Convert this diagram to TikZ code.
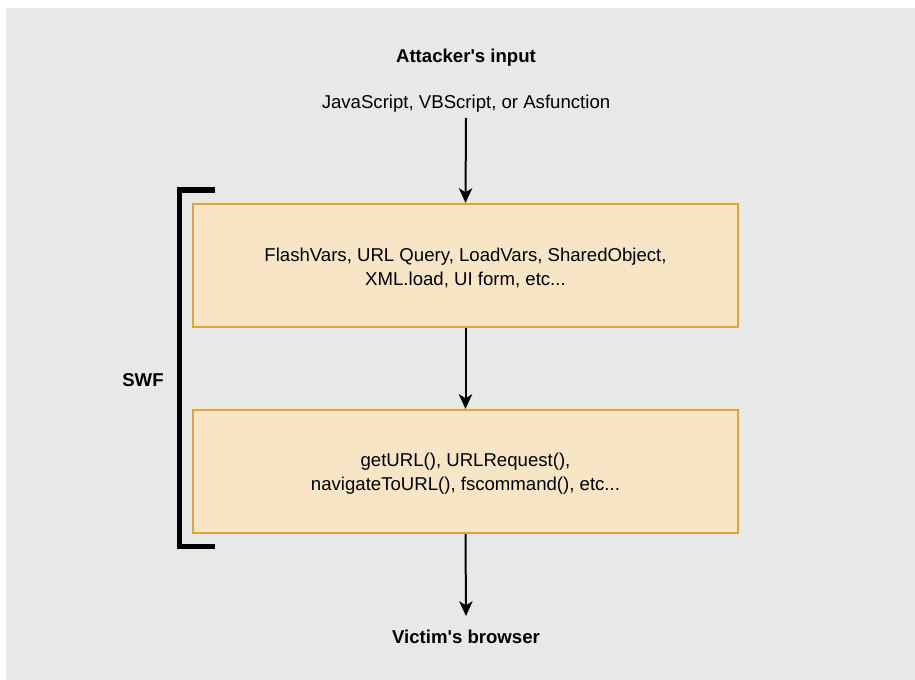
\documentclass[tikz,border=0pt]{standalone}
\usepackage{fontspec}
\setmainfont{Liberation Sans}[Ligatures=TeXOff]
\usetikzlibrary{arrows.meta}
\definecolor{bggray}{HTML}{E8E8E8}
\definecolor{boxfill}{HTML}{F8E5C6}
\definecolor{boxline}{HTML}{E2A336}
\tikzset{
  stagebox/.style={draw=boxline, line width=1.6pt, fill=boxfill,
    minimum width=545*0.75pt, minimum height=123*0.75pt, align=center,
    inner sep=0pt, font=\fontsize{13.95}{18}\selectfont},
  plain/.style={inner sep=0pt, font=\fontsize{13.95}{18}\selectfont},
  heading/.style={inner sep=0pt, font=\fontsize{13.95}{18}\selectfont\bfseries},
  flow/.style={line width=1.5pt, -{Stealth[length=11pt, width=10pt, inset=3pt]}},
  bracket/.style={line width=3.8pt}
}
\begin{document}
\begin{tikzpicture}[x=0.75pt, y=-0.75pt]
  \useasboundingbox (0,0) rectangle (915,680);
  \fill[bggray] (6,8) rectangle (915,680);

  \node[heading] (attacker) at (466,58) {Attacker's input};
  \node[plain] (payload) at (466,104) {JavaScript, VBScript, or Asfunction};

  \node[stagebox] (inputs) at (465.5,265.5) {};
  \node[plain, align=center] (inputstext) at (465.5,268)
    {FlashVars, URL Query, LoadVars, SharedObject,\\XML.load, UI form, etc...};
  \node[stagebox] (sinks) at (465.5,471.5) {};
  \node[plain, align=center] (sinkstext) at (465.5,474)
    {getURL(), URLRequest(),\\navigateToURL(), fscommand(), etc...};

  \node[heading] (victim) at (466,637) {Victim's browser};
  \node[heading] (swf) at (143,380) {SWF};

  \coordinate (payloadfoot) at (466,118);
  \coordinate (victimhead) at (466,616);

  \draw[flow] (payloadfoot) -- (inputs.north);
  \draw[flow] (inputs.south) -- (sinks.north);
  \draw[flow] (sinks.south) -- (victimhead);

  \coordinate (brtop) at (215,190);
  \coordinate (brbot) at (215,546.5);
  \draw[bracket] (brtop) -- (179.5,190) -- (179.5,546.5) -- (brbot);
\end{tikzpicture}
\end{document}
